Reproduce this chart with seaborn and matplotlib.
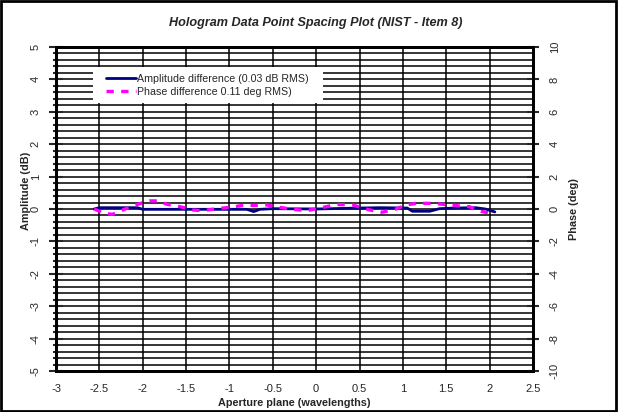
import numpy as np
import pandas as pd
import matplotlib
matplotlib.use("Agg")
import matplotlib.pyplot as plt
import seaborn as sns
from matplotlib.ticker import MultipleLocator, FuncFormatter

# aperture positions (wavelengths) and measured differences
amp_x = [-2.56, -2.5, -2.3, -2.06, -2.0, -1.6, -1.2, -0.8, -0.72, -0.65, -0.5,
         0.0, 0.5, 0.73, 1.05, 1.11, 1.31, 1.42, 1.6, 1.84, 1.95, 2.06]
amp_db = [0.0, 0.04, 0.04, 0.04, -0.01, -0.01, -0.01, -0.01, -0.08, -0.01, 0.01,
          0.0, 0.03, 0.04, 0.03, -0.07, -0.07, 0.01, 0.03, 0.04, 0.0, -0.09]

ph_x = [-2.56, -2.44, -2.35, -2.23, -2.12, -2.02, -1.92, -1.83, -1.72, -1.61, -1.52,
        -1.43, -1.31, -1.2, -1.09, -0.97, -0.85, -0.69, -0.57, -0.42, -0.27, -0.11,
        0.04, 0.23, 0.42, 0.61, 0.76, 0.92, 1.04, 1.15, 1.34, 1.54, 1.65, 1.77, 1.86, 1.98]
ph_deg = [0.0, -0.27, -0.33, -0.06, 0.19, 0.35, 0.5, 0.5, 0.29, 0.19, 0.08,
          -0.06, -0.1, -0.02, 0.05, 0.12, 0.22, 0.22, 0.25, 0.1, -0.02, -0.1,
          0.05, 0.28, 0.25, -0.05, -0.2, 0.0, 0.25, 0.35, 0.35, 0.25, 0.19, 0.14, -0.1, -0.23]

amp = pd.DataFrame({"x": amp_x, "y": amp_db})
ph = pd.DataFrame({"x": ph_x, "y": ph_deg})

sns.set_style("white")
plt.rcParams["font.family"] = ["Liberation Sans", "DejaVu Sans"]

W, H = 618, 412
AW, AH = 477, 324
fig = plt.figure(figsize=(6.18, 4.12), dpi=100)
ax = fig.add_axes([56 / W, 1 - 371 / H, AW / W, AH / H])
ax2 = ax.twinx()

# border round the whole figure
fig.patches.append(plt.Rectangle((0.002, 0.003), 0.995, 0.994, transform=fig.transFigure,
                                 fill=False, edgecolor="black", linewidth=2))

sns.lineplot(data=amp, x="x", y="y", ax=ax, color="#000080", linewidth=2,
             label="Amplitude difference (0.03 dB RMS)", legend=False)
sns.lineplot(data=ph, x="x", y="y", ax=ax2, color="#ff00ff", linewidth=2.4,
             linestyle=(0, (2.2, 2.2)), label="Phase difference 0.11 deg RMS)", legend=False)

ax.set_xlim(-3, 2.5)
ax.set_ylim(-5, 5)
ax2.set_ylim(-10, 10)

fmt = FuncFormatter(lambda v, p: "%g" % v)
ax.xaxis.set_major_locator(MultipleLocator(0.5))
ax.yaxis.set_major_locator(MultipleLocator(1))
ax.yaxis.set_minor_locator(MultipleLocator(0.2))
ax2.yaxis.set_major_locator(MultipleLocator(2))
ax.xaxis.set_major_formatter(fmt)
ax.yaxis.set_major_formatter(fmt)
ax2.yaxis.set_major_formatter(fmt)

ax.grid(True, which="major", axis="x", color="black", linewidth=1.1)
ax.grid(True, which="both", axis="y", color="black", linewidth=1.1)
ax.set_axisbelow(True)

ax.tick_params(axis="x", which="major", direction="inout", length=8, width=1.5,
               labelsize=8, pad=5)
ax.tick_params(axis="y", which="major", direction="inout", length=10, width=1.5,
               labelsize=8, labelrotation=90, pad=6)
ax.tick_params(axis="y", which="minor", direction="inout", length=5, width=1.5, left=True)
ax2.tick_params(axis="y", which="major", direction="inout", length=8, width=1.5,
                labelsize=8, labelrotation=90, pad=8)
for lab in ax.get_yticklabels() + ax2.get_yticklabels():
    lab.set_verticalalignment("center")

for a in (ax, ax2):
    for s in a.spines.values():
        s.set_linewidth(2)
        s.set_color("black")

ax.set_xlabel("Aperture plane (wavelengths)", fontsize=7.8, fontweight="bold")
ax.xaxis.set_label_coords(0.5, -27 / AH)
ax.set_ylabel("Amplitude (dB)", fontsize=7.8, fontweight="bold")
ax.yaxis.set_label_coords(-25 / AW, (371 - 191) / AH)
ax2.set_ylabel("Phase (deg)", fontsize=7.8, fontweight="bold")
ax2.yaxis.set_label_coords(1 + 36 / AW, 0.5)
fig.text(316 / W, 1 - 23 / H, "Hologram Data Point Spacing Plot (NIST - Item 8)",
         fontsize=9.1, fontweight="bold", style="italic", ha="center", va="center")

# white legend box, drawn separately so it can be wider than the entries
ax2.add_patch(plt.Rectangle(((93 - 56) / AW, (371 - 103) / AH), 230 / AW, 36 / AH,
                            transform=ax2.transAxes, facecolor="white",
                            edgecolor="none", zorder=4))
h1, l1 = ax.get_legend_handles_labels()
h2, l2 = ax2.get_legend_handles_labels()
leg = ax2.legend(h1 + h2, l1 + l2, loc="upper left",
                 bbox_to_anchor=((106 - 56) / AW, (371 - 74) / AH),
                 frameon=False, fontsize=7.7, borderpad=0, handlelength=2.8,
                 handletextpad=0.1, labelspacing=0.3, borderaxespad=0)
leg.set_zorder(5)

fig.savefig("out.png", dpi=100)
